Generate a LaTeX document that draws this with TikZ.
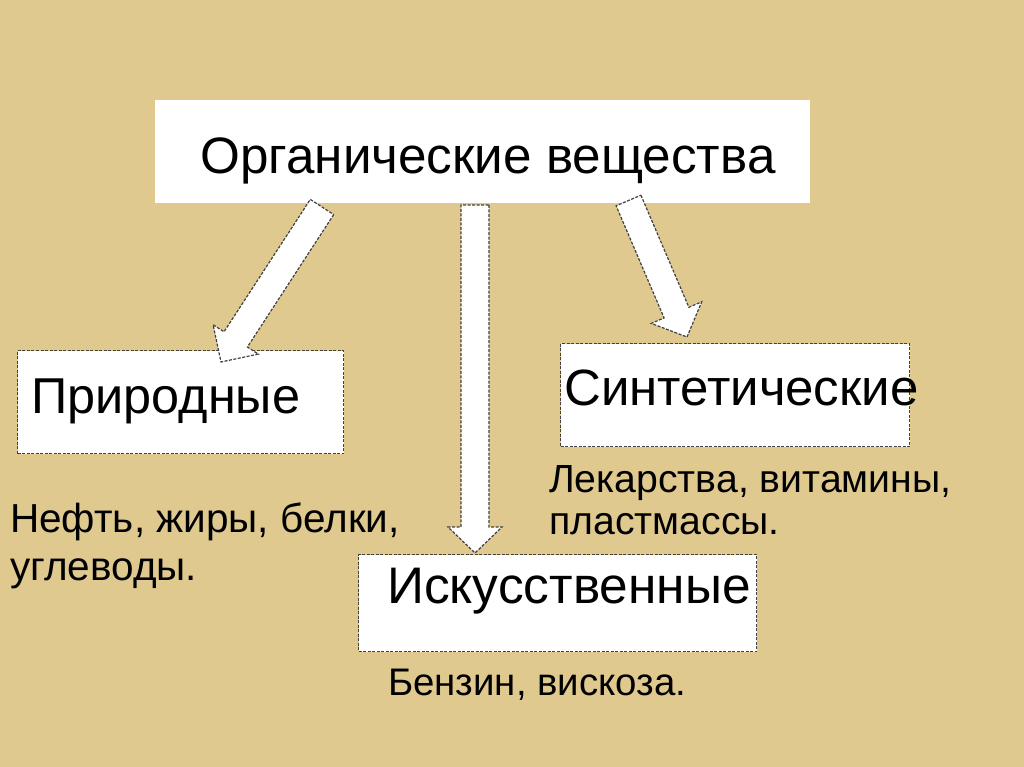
\documentclass[tikz,border=0pt]{standalone}
\usepackage{fontspec}
\setmainfont{Liberation Sans}
\definecolor{bgtan}{RGB}{223,201,143}
\definecolor{edgegray}{RGB}{65,65,65}
\begin{document}
\begin{tikzpicture}[x=1pt,y=-1pt,
  panel/.style={fill=white, draw=none, anchor=north west, inner sep=0pt},
  dbox/.style={fill=white, draw=edgegray, line width=1pt, dash pattern=on 3pt off 1.5pt, anchor=north west, inner sep=0pt},
  blockarrow/.style={fill=white, draw=edgegray, line width=1.2pt, dash pattern=on 3pt off 1.5pt, line join=miter},
  bigtext/.style={anchor=base west, inner sep=0pt},
  toptext/.style={anchor=base, inner sep=0pt, font=\fontsize{51.2}{60}\selectfont},
  smalltext/.style={anchor=base west, inner sep=0pt}
]
\useasboundingbox (0,0) rectangle (1024,767);
\fill[bgtan] (0,0) rectangle (1024,767);

% top panel
\node[panel, minimum width=655pt, minimum height=103pt] (top) at (155,100) {};
\node[toptext] (toplabel) at (488,174) {Органические вещества};

% boxes
\node[dbox, minimum width=326pt, minimum height=103pt] (prir) at (17,350) {};
\node[bigtext, font=\fontsize{50.4}{60}\selectfont] (prirlabel) at (31,413) {Природные};

\node[dbox, minimum width=349pt, minimum height=103pt] (sint) at (560,343) {};
\node[bigtext, font=\fontsize{51}{60}\selectfont] (sintlabel) at (564,405) {Синтетические};

\node[dbox, minimum width=398pt, minimum height=97pt] (isk) at (358,554) {};
\node[bigtext, font=\fontsize{51.4}{60}\selectfont] (isklabel) at (387,603) {Искусственные};

% example texts
\node[smalltext, font=\fontsize{40.5}{46}\selectfont] (prirex1) at (10,532) {Нефть, жиры, белки,};
\node[smalltext, font=\fontsize{40.5}{46}\selectfont] (prirex2) at (10,580) {углеводы.};
\node[smalltext, font=\fontsize{39.2}{46}\selectfont] (sintex1) at (549,492) {Лекарства, витамины,};
\node[smalltext, font=\fontsize{39.2}{46}\selectfont] (sintex2) at (549,534) {пластмассы.};
\node[smalltext, font=\fontsize{38.4}{46}\selectfont] (iskex) at (388,695) {Бензин, вискоза.};

% block arrows
\draw[blockarrow] (333.7,214.6) -- (247.4,347.0) -- (258.3,354.1) -- (221,362)
  -- (213.1,324.7) -- (224.0,331.8) -- (310.3,199.4) -- cycle;
\draw[blockarrow] (489,205) -- (489,527) -- (502,527) -- (475,553)
  -- (448,527) -- (461,527) -- (461,205) -- cycle;
\draw[blockarrow] (640.9,195.2) -- (688.9,307.3) -- (701.7,301.8) -- (687,337)
  -- (651.3,323.4) -- (664.1,317.9) -- (616.1,205.8) -- cycle;
\end{tikzpicture}
\end{document}
